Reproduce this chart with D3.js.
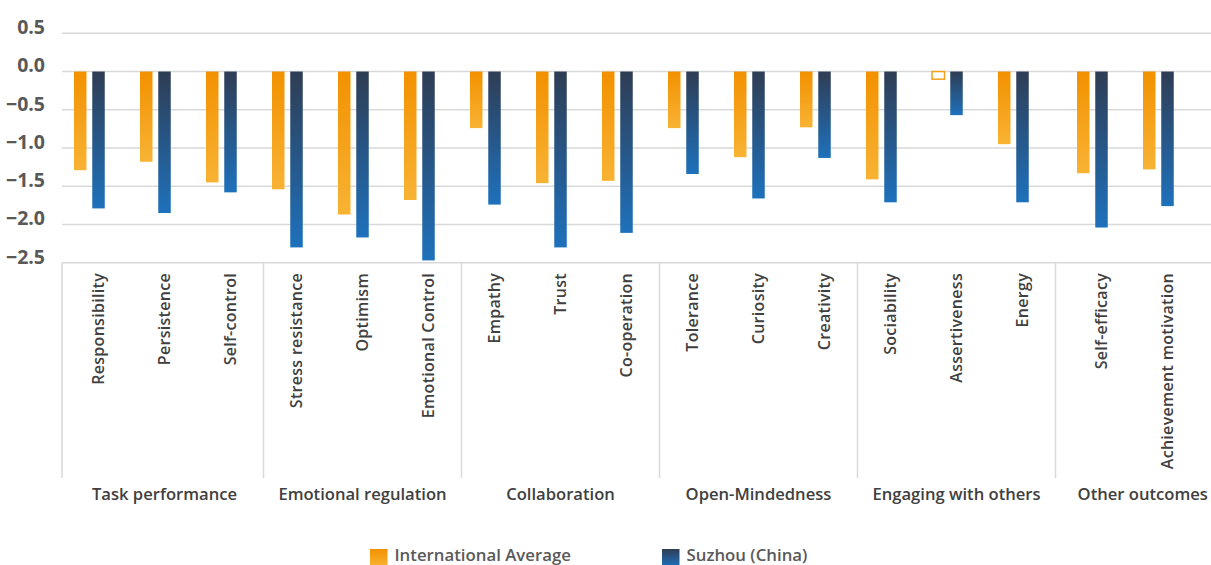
<!DOCTYPE html>
<html>
<head>
<meta charset="utf-8">
<script src="https://cdn.jsdelivr.net/npm/d3@7/dist/d3.min.js"></script>
<style>
  html, body { margin: 0; padding: 0; background: #ffffff; }
  svg { display: block; font-family: "Open Sans", "Noto Sans", sans-serif; }
</style>
</head>
<body>
<svg id="chart" width="1211" height="565"></svg>
<script>
// ---------- data ----------
const categories = [
  "Responsibility", "Persistence", "Self-control",
  "Stress resistance", "Optimism", "Emotional Control",
  "Empathy", "Trust", "Co-operation",
  "Tolerance", "Curiosity", "Creativity",
  "Sociability", "Assertiveness", "Energy",
  "Self-efficacy", "Achievement motivation"
];
const groups = [
  "Task performance", "Emotional regulation", "Collaboration",
  "Open-Mindedness", "Engaging with others", "Other outcomes"
];
const groupSizes = [3, 3, 3, 3, 3, 2];
const seriesNames = ["International Average", "Suzhou (China)"];
const internationalValues = [
  -1.29, -1.18, -1.45,
  -1.54, -1.87, -1.68,
  -0.74, -1.46, -1.43,
  -0.74, -1.12, -0.73,
  -1.41, -0.10, -0.95,
  -1.33, -1.28
];
const suzhouValues = [
  -1.79, -1.85, -1.58,
  -2.30, -2.17, -2.47,
  -1.74, -2.30, -2.11,
  -1.34, -1.66, -1.13,
  -1.71, -0.57, -1.71,
  -2.04, -1.76
];
const yTicks = [0.5, 0.0, -0.5, -1.0, -1.5, -2.0, -2.5];

// ---------- layout ----------
const W = 1211, H = 565;
const plotLeft = 62, plotRight = 1230;
const yTopPx = 33.3, yBottomPx = 262.7;
const bandStart = 65.5, bandStep = 66;
const lastGroupShift = 13;
const sepBottom = 478;

const svg = d3.select("#chart");

// gradients
const defs = svg.append("defs");
function grad(id, c1, c2) {
  const g = defs.append("linearGradient").attr("id", id)
    .attr("x1", 0).attr("y1", 0).attr("x2", 0).attr("y2", 1);
  g.append("stop").attr("offset", "0%").attr("stop-color", c1);
  g.append("stop").attr("offset", "100%").attr("stop-color", c2);
}
grad("gOrange", "#F29100", "#F8B334");
grad("gBlue", "#2F3D54", "#1E71BC");
const fills = ["url(#gOrange)", "url(#gBlue)"];

const y = d3.scaleLinear().domain([-2.5, 0.5]).range([yBottomPx, yTopPx]);
const x = d3.scaleBand().domain(categories)
  .range([bandStart, bandStart + bandStep * categories.length]);
const xInner = d3.scaleBand().domain([...seriesNames, "(unused)"])
  .range([0, x.bandwidth()]).paddingInner(0.315).paddingOuter(0.466);

// group membership
const catGroup = [];
groupSizes.forEach((n, gi) => { for (let k = 0; k < n; k++) catGroup.push(gi); });
const shiftOf = c => (catGroup[categories.indexOf(c)] === groups.length - 1 ? lastGroupShift : 0);

// group extents
let idx = 0;
const groupInfo = groups.map((g, gi) => {
  const first = categories[idx];
  idx += groupSizes[gi];
  return { name: g, start: x(first) };
});
groupInfo.forEach((gInfo, gi) => {
  gInfo.end = gi < groupInfo.length - 1 ? groupInfo[gi + 1].start : plotRight;
  gInfo.sep = gi === 0 ? plotLeft : gInfo.start;
});

// gridlines
svg.append("g").selectAll("line").data(yTicks).join("line")
  .attr("x1", plotLeft).attr("x2", plotRight)
  .attr("y1", d => y(d)).attr("y2", d => y(d))
  .attr("stroke", "#d9d9d9").attr("stroke-width", 1.5);

// separators
svg.append("g").selectAll("line").data(groupInfo).join("line")
  .attr("x1", d => d.sep).attr("x2", d => d.sep)
  .attr("y1", y(-2.5)).attr("y2", sepBottom)
  .attr("stroke", "#d9d9d9").attr("stroke-width", 1.5);

// y tick labels
svg.append("g").selectAll("text").data(yTicks).join("text")
  .attr("x", 45).attr("y", d => y(d) - 6).attr("dy", "0.35em")
  .attr("text-anchor", "end")
  .attr("font-size", 19.5).attr("font-weight", 700).attr("fill", "#595959")
  .text(d => d3.format(".1f")(d));

// bars
const seriesData = [internationalValues, suzhouValues];
seriesData.forEach((vals, si) => {
  const data = categories.map((c, i) => ({ c, v: vals[i] }));
  svg.append("g").selectAll("rect").data(data).join("rect")
    .attr("x", d => x(d.c) + shiftOf(d.c) + xInner(seriesNames[si]))
    .attr("width", xInner.bandwidth())
    .attr("y", d => y(Math.max(0, d.v)))
    .attr("height", d => Math.abs(y(d.v) - y(0)))
    .attr("fill", d => (si === 0 && d.c === "Assertiveness") ? "#ffffff" : fills[si])
    .attr("stroke", d => (si === 0 && d.c === "Assertiveness") ? "#F5A11C" : "none")
    .attr("stroke-width", 1.5);
});

// category labels
svg.append("g").selectAll("text").data(categories).join("text")
  .attr("transform", d => `translate(${x(d) + shiftOf(d) + x.bandwidth() / 2},273) rotate(-90)`)
  .attr("dy", "0.35em")
  .attr("text-anchor", "end")
  .attr("font-size", 16).attr("font-weight", 600).attr("fill", "#404040")
  .attr("letter-spacing", 0.3)
  .text(d => d);

// group labels
svg.append("g").selectAll("text").data(groupInfo).join("text")
  .attr("x", d => (d.start + d.end) / 2).attr("y", 500)
  .attr("text-anchor", "middle")
  .attr("font-size", 16.6).attr("font-weight", 600).attr("fill", "#404040")
  .text(d => d.name);

// legend
const legendX = [370, 662];
const lg = svg.append("g").selectAll("g").data(seriesNames).join("g")
  .attr("transform", (d, i) => `translate(${legendX[i]},549)`);
lg.append("rect").attr("width", 17.5).attr("height", 17.5)
  .attr("fill", (d, i) => fills[i]);
lg.append("text").attr("x", 24.5).attr("y", 12)
  .attr("font-size", 16.8).attr("font-weight", 600).attr("fill", "#595959")
  .text(d => d);
</script>
</body>
</html>
